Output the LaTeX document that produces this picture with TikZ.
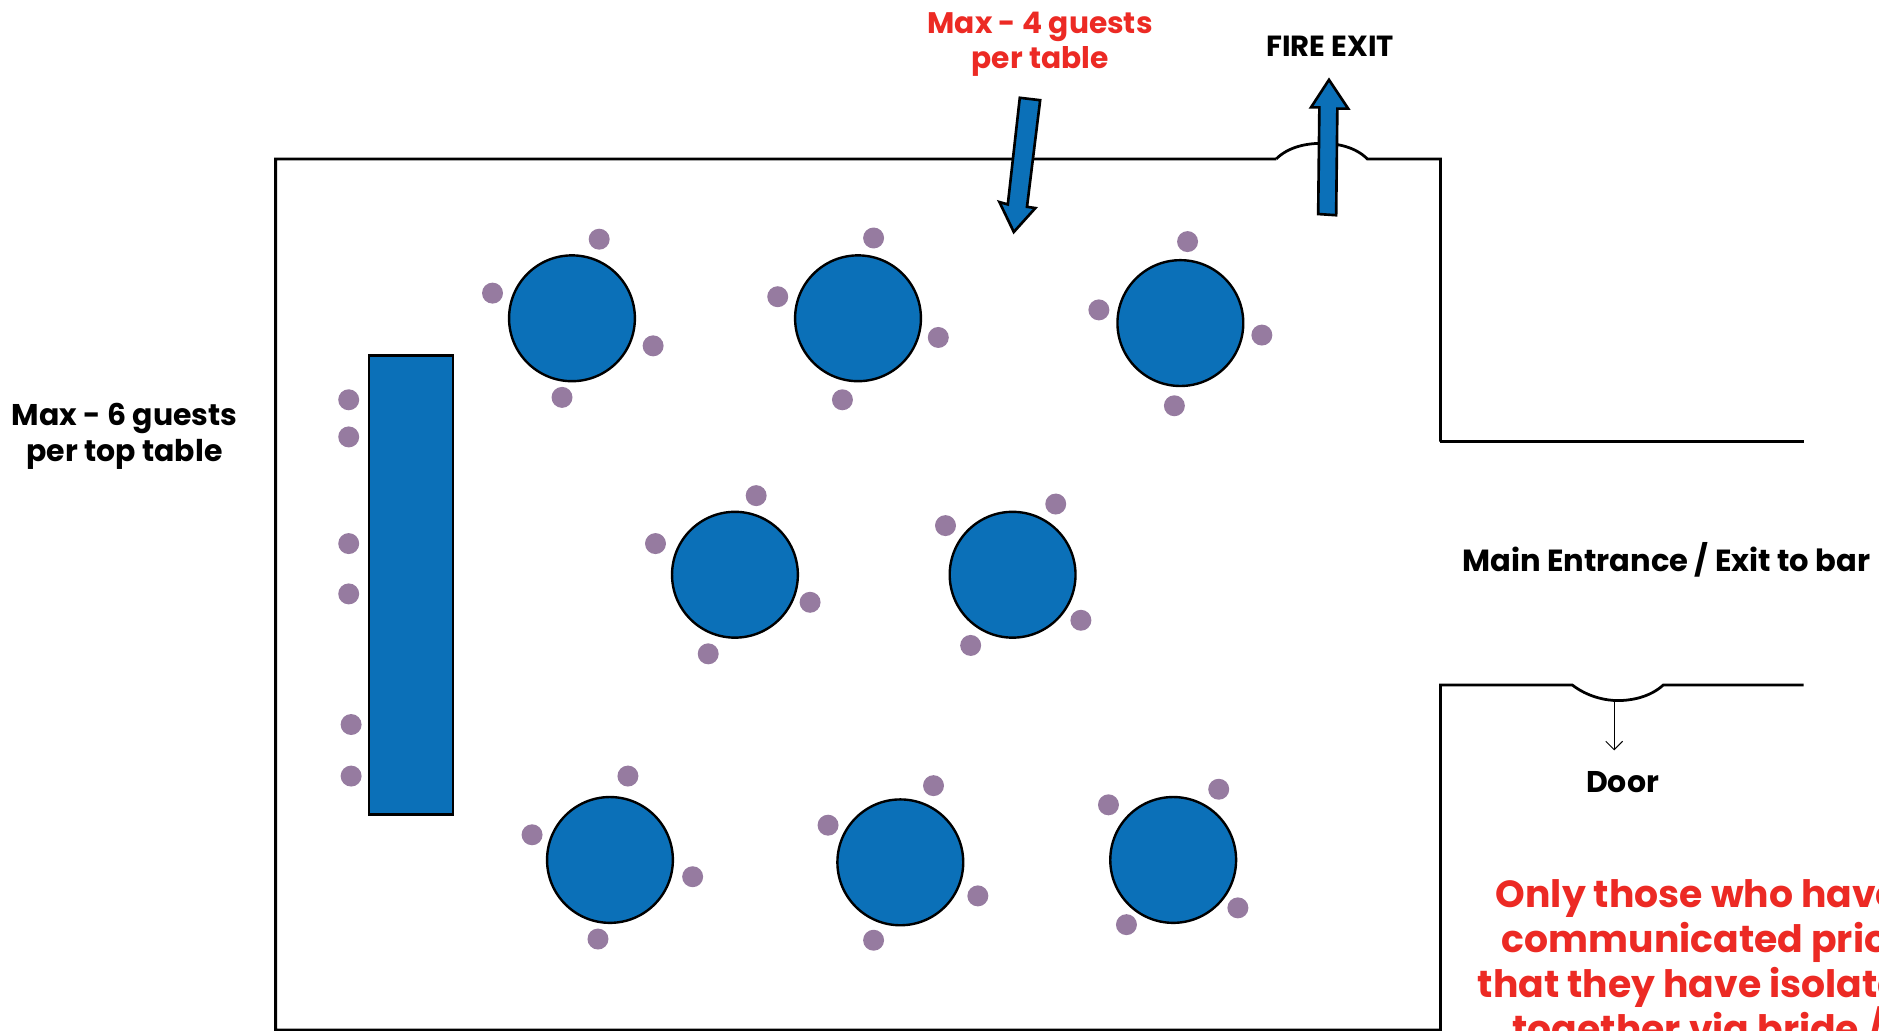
\documentclass[tikz,border=0pt]{standalone}
\usepackage{fontspec}
\setmainfont{Poppins}
\definecolor{tbl}{HTML}{0B70B8}
\definecolor{seat}{HTML}{967BA0}
\definecolor{warn}{HTML}{EC2A24}
\tikzset{
  tablec/.style={circle,draw=black,fill=tbl,line width=2pt,minimum size=105pt,inner sep=0pt},
  toptable/.style={draw=black,fill=tbl,line width=2.2pt,minimum width=70pt,minimum height=383pt,inner sep=0pt},
  seatc/.style={circle,fill=seat,minimum size=17.5pt,inner sep=0pt},
  wall/.style={draw=black,line width=2.3pt,line join=miter},
  blockarrow/.style={draw=black,fill=tbl,line width=2.2pt,line join=miter},
  blk/.style={font=\fontsize{25}{29.5}\selectfont\bfseries,align=center,inner sep=0pt,text=black},
  red/.style={font=\fontsize{24.8}{29.5}\selectfont\bfseries,align=center,inner sep=0pt,text=warn},
  bigred/.style={font=\fontsize{31.5}{36}\selectfont\bfseries,anchor=base west,inner sep=0pt,text=warn},
}
\begin{document}
\begin{tikzpicture}[x=1pt,y=-1pt]
\useasboundingbox (0,0) rectangle (1568,860);
\clip (0,0) rectangle (1568,860);
\begin{scope}[xshift=0pt,yshift=-0.6pt]
% walls
\draw[wall] (1202,368) -- (1505,368);
\draw[wall] (1065,132) -- (230,132) -- (230,859) -- (1202,859) -- (1202,571) -- (1312,571)
  .. controls (1325,581) and (1340,584) .. (1350,584)
  .. controls (1362,584) and (1377,581) .. (1388,571) -- (1505,571);
\draw[wall] (1065,132) .. controls (1075,122) and (1090,119) .. (1103,119)
  .. controls (1116,119) and (1131,122) .. (1141,132) -- (1202,132) -- (1202,368);
% door arrow
\coordinate (doorA) at (1347,584);
\coordinate (doorB) at (1347,625);
\draw[line width=0.8pt] (doorA) -- (doorB);
\draw[line width=0.8pt] (1340,618) -- (doorB) -- (1354,618);
% block arrows
\draw[blockarrow] (851,81) -- (868,83) -- (857,172) -- (864,173) -- (846,193) -- (834,168) -- (841,170) -- cycle;
\draw[blockarrow] (1100,178) -- (1115,179) -- (1116,90) -- (1125,90) -- (1109,66) -- (1094,89) -- (1101,89) -- cycle;
% top table
\node[toptable] (top) at (343,487.5) {};
% round tables
\foreach \n/\x/\y in {a/477.3/265,b/716/265,c/985/269,d/613.3/479,e/845/479,f/509/717,g/751.3/719,h/979/717}
  \node[tablec] (t\n) at (\x,\y) {};
% seats
\foreach \x/\y [count=\i] in {500/199,411/244,545/288,469/331,729/198,649/247,783/281,703/333,991/201,917/258,1053/279,980/338,631/413,547/453,676/502,591/545,881/420,789/438,902/517,810/538,524/647,444/696,578/731,499/783,779/655,691/688,816/747,729/784,1017/658,925/671,1033/757,940/771,291/333,291/364,291/453,291/495,293/604,293/647}
  \node[seatc] (s\i) at (\x,\y) {};
\end{scope}
% labels
\node[red] (l4) at (868,37) {Max - 4 guests\\per table};
\node[blk,font=\fontsize{24.3}{29}\selectfont\bfseries] (fire) at (1110,39) {FIRE EXIT};
\node[blk] (l6) at (104,364) {Max - 6 guests\\per top table};
\node[blk,anchor=west,font=\fontsize{25.5}{29}\selectfont\bfseries] (main) at (1220,467) {Main Entrance / Exit to bar};
\node[blk] (door) at (1354,652.5) {Door};
\node[bigred] (n1) at (1248,757) {Only those who have};
\node[bigred] (n2) at (1253,795) {communicated prior};
\node[bigred] (n3) at (1233,832) {that they have isolated};
\node[bigred] (n4) at (1262,870) {together via bride /};
\end{tikzpicture}
\end{document}
